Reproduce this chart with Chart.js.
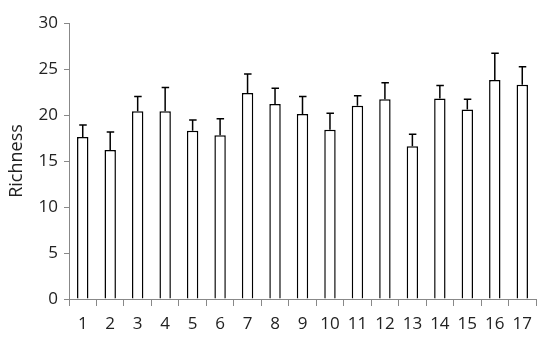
<!DOCTYPE html>
<html>
<head>
<meta charset="utf-8">
<script src="https://cdn.jsdelivr.net/npm/chart.js@4"></script>
<style>
  html, body { margin: 0; padding: 0; background: #fff; }
  #wrap { width: 550px; height: 341px; }
</style>
</head>
<body>
<div id="wrap"><canvas id="grafico"></canvas></div>
<script>
const sites = ["1","2","3","4","5","6","7","8","9","10","11","12","13","14","15","16","17"];
const richness = [17.6, 16.2, 20.4, 20.4, 18.3, 17.8, 22.4, 21.2, 20.1, 18.4, 21.0, 21.7, 16.6, 21.8, 20.6, 23.8, 23.3];
const errorTop = [18.9, 18.15, 22.0, 23.0, 19.45, 19.6, 24.45, 22.9, 22.0, 20.2, 22.1, 23.5, 17.9, 23.2, 21.7, 26.7, 25.25];
const yTicks = [0, 5, 10, 15, 20, 25, 30];

// desenha as barras de erro (só a parte de cima)
const errorBars = {
    id: "errorBars",
    afterDatasetsDraw(chart) {
        const ctx = chart.ctx;
        const meta = chart.getDatasetMeta(0);
        const y = chart.scales.y;
        ctx.save();
        ctx.strokeStyle = "#000";
        ctx.lineWidth = 1.5;
        meta.data.forEach((bar, i) => {
            const top = y.getPixelForValue(errorTop[i]);
            ctx.beginPath();
            ctx.moveTo(bar.x, bar.y);
            ctx.lineTo(bar.x, top);
            ctx.moveTo(bar.x - 3.5, top);
            ctx.lineTo(bar.x + 4, top);
            ctx.stroke();
        });
        ctx.restore();
    }
};

const fonte = { family: "'Open Sans', sans-serif", size: 17 };

new Chart(document.getElementById("grafico"), {
    type: "bar",
    data: {
        labels: sites,
        datasets: [{
            data: richness,
            backgroundColor: "#fff",
            borderColor: "#000",
            borderWidth: 1.5,
            borderSkipped: "bottom",
            barPercentage: 0.8,
            categoryPercentage: 0.52
        }]
    },
    options: {
        responsive: true,
        maintainAspectRatio: false,
        animation: false,
        layout: { padding: { top: 23, right: 14, left: 6, bottom: 0 } },
        plugins: {
            legend: { display: false },
            tooltip: { enabled: false }
        },
        scales: {
            x: {
                grid: { drawOnChartArea: false, offset: true, color: "#888", tickLength: 7 },
                border: { color: "#888", width: 1 },
                ticks: { color: "#222", font: fonte, padding: 8, maxRotation: 0 },
                afterFit(scale) { scale.height = 42; }
            },
            y: {
                min: 0,
                max: 30,
                afterBuildTicks(scale) { scale.ticks = yTicks.map(v => ({ value: v })); },
                grid: { drawOnChartArea: false, color: "#888", tickLength: 5 },
                border: { color: "#888", width: 1 },
                ticks: { color: "#222", font: fonte, padding: 6 },
                title: {
                    display: true,
                    text: "Richness",
                    color: "#222",
                    font: { family: "'Open Sans', sans-serif", size: 18 },
                    padding: { top: 0, bottom: 4 }
                },
                afterFit(scale) { scale.width = 63; }
            }
        }
    },
    plugins: [errorBars]
});
</script>
</body>
</html>
